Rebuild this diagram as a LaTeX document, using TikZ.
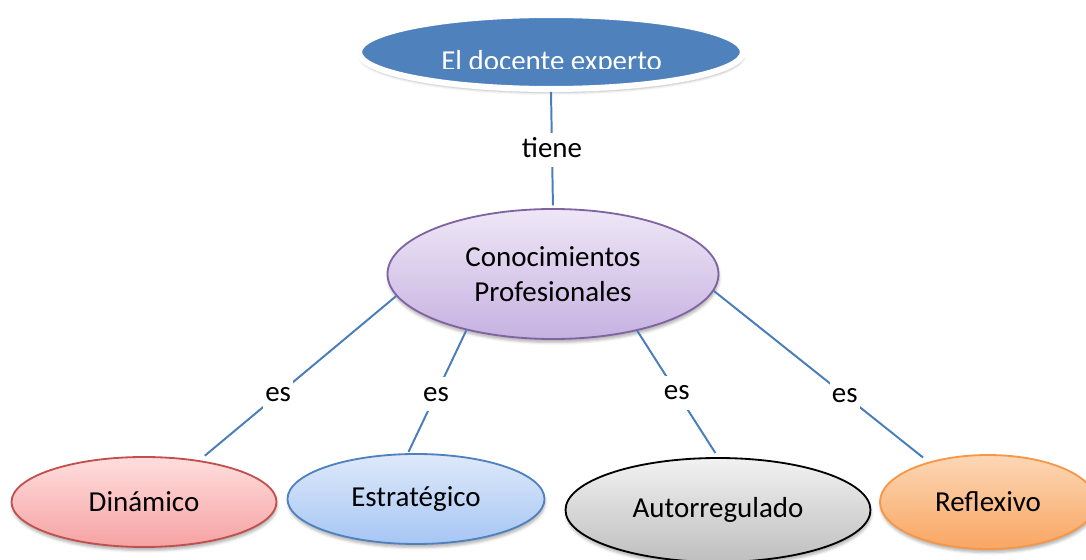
\documentclass[tikz,border=0pt]{standalone}
\usepackage{fontspec}
\setmainfont{Carlito}
\usetikzlibrary{shapes.geometric, shadows.blur}

\definecolor{linkblue}{HTML}{4A7EBB}
\definecolor{topblue}{HTML}{4F81BD}
\definecolor{midedge}{HTML}{8064A2}
\definecolor{dinedge}{HTML}{C0504D}
\definecolor{estedge}{HTML}{4F81BD}
\definecolor{refedge}{HTML}{F79646}

\tikzset{
    concept/.style = {ellipse, inner sep = 0pt, line width = 1.3pt, align = center,
        font = \fontsize{20.6}{25}\selectfont,
        blur shadow = {shadow xshift = 0.5pt, shadow yshift = -2.5pt, shadow opacity = 30}},
    link/.style = {draw = linkblue, line width = 1.4pt},
    linkword/.style = {fill = white, inner xsep = 1.6pt, inner ysep = 2.8pt,
        text height = 14.4pt, text depth = 4.2pt, font = \fontsize{20.6}{25}\selectfont}
}

\begin{document}
\begin{tikzpicture}
    \useasboundingbox (+0.000, +0.000) rectangle (+27.150, -14.000);

    % === Top element ===
    % El docente experto
    \node[concept, fill = topblue, draw = white, line width = 0.150cm,
        minimum width = 9.600cm, minimum height = 1.850cm] (top) at (+13.775, -1.300) {};
    \begin{scope}
        \clip (+0.000, +0.000) rectangle (+27.150, -1.712);
        \node[anchor = base, text = white, font = \fontsize{20.6}{25}\selectfont]
            (toptext) at (+13.790, -1.750) {El docente experto};
    \end{scope}

    % === Middle element ===
    % Conocimientos Profesionales
    \node[concept, draw = midedge, top color = {rgb,255:red,238;green,231;blue,246},
        bottom color = {rgb,255:red,199;green,177;blue,225},
        minimum width = 8.275cm, minimum height = 3.250cm] (mid) at (+13.825, -6.850)
        {Conocimientos\\Profesionales};

    % === Lower elements, left to right ===
    % Dinamico
    \node[concept, draw = dinedge, top color = {rgb,255:red,255;green,222;blue,222},
        bottom color = {rgb,255:red,246;green,162;blue,162},
        minimum width = 6.625cm, minimum height = 2.250cm] (din) at (+3.600, -12.550) {Dinámico};

    % Estrategico
    \node[concept, draw = estedge, top color = {rgb,255:red,222;green,233;blue,250},
        bottom color = {rgb,255:red,166;green,198;blue,244},
        minimum width = 6.425cm, minimum height = 2.250cm] (est) at (+10.400, -12.475) {Estratégico};

    % Autorregulado
    \node[concept, draw = black, top color = {rgb,255:red,242;green,242;blue,242},
        bottom color = {rgb,255:red,190;green,190;blue,190},
        minimum width = 7.625cm, minimum height = 2.600cm] (aut) at (+17.950, -12.750) {Autorregulado};

    % Reflexivo
    \node[concept, draw = refedge, top color = {rgb,255:red,252;green,215;blue,182},
        bottom color = {rgb,255:red,249;green,166;blue,98},
        minimum width = 5.400cm, minimum height = 2.350cm] (ref) at (+24.700, -12.550) {Reflexivo};

    % === Connectors ===
    \draw[link, shorten >= 2pt] (top.south) -- node[linkword] {tiene} (mid.north);
    \draw[link, shorten >= 5pt] (mid.188) -- node[linkword, pos = 0.60] {es} (din.37);
    \draw[link, shorten >= 1pt] (mid.213) -- node[linkword, pos = 0.52] {es} (est.100);
    \draw[link, shorten >= 3.5pt] (mid.326) -- node[linkword, pos = 0.49] {es} (aut.90);
    \draw[link, shorten >= 5pt] (mid.354) -- node[linkword, pos = 0.61] {es} (ref.146);
\end{tikzpicture}
\end{document}
